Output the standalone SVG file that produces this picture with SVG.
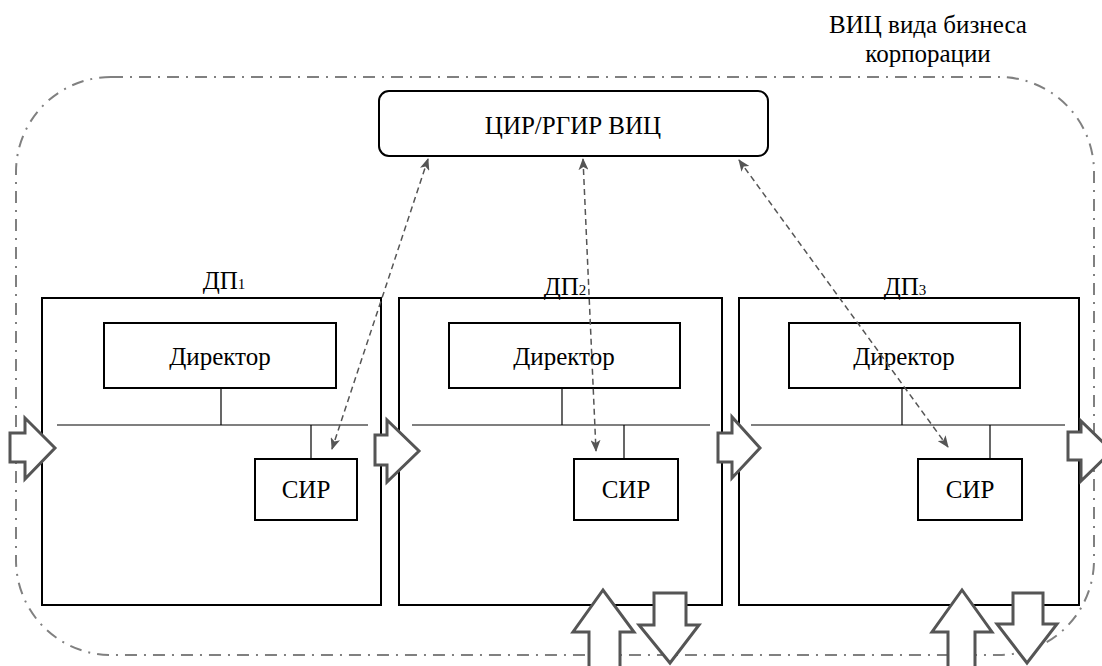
<svg xmlns="http://www.w3.org/2000/svg" width="1102" height="666" viewBox="0 0 1102 666" font-family="Liberation Serif, DejaVu Serif, serif">
<style>
.box{fill:#fff;stroke:#000;stroke-width:2}
.ln{stroke:#000;stroke-width:1.2;fill:none}
.t{font-family:'Liberation Serif','Times New Roman','DejaVu Serif',serif;fill:#000;text-anchor:middle;font-size:25px}
.conn{stroke:#555;stroke-width:1.5;stroke-dasharray:6 4;fill:none}
.blk{fill:#fff;stroke:#555;stroke-width:3;stroke-linejoin:miter}
.outer{fill:none;stroke:#808080;stroke-width:2;stroke-dasharray:12 7 2 7}
</style>
<defs>
<marker id="ah" viewBox="0 0 12 10" refX="11" refY="5" markerWidth="12" markerHeight="10" markerUnits="userSpaceOnUse" orient="auto-start-reverse">
<path d="M0,0 L12,5 L0,10 L3,5 Z" fill="#555"/>
</marker>
</defs>
<rect class="outer" x="16" y="77" width="1078" height="578" rx="95" ry="95"/>
<g id="label-vic">
<text class="t" x="928" y="33">ВИЦ вида бизнеса</text>
<text class="t" x="928" y="62">корпорации</text>
</g>
<g id="cir">
<rect class="box" x="379" y="91" width="389" height="65" rx="10" ry="10"/>
<text class="t" x="573" y="134" font-size="26">ЦИР/РГИР ВИЦ</text>
</g>
<g id="dp1">
<rect class="box" x="42" y="298" width="339" height="307"/>
<text class="t" x="224" y="289">ДП<tspan font-size="15">1</tspan></text>
<line class="ln" x1="57" y1="425" x2="368" y2="425"/>
<line class="ln" x1="221" y1="388" x2="221" y2="425"/>
<line class="ln" x1="311" y1="425" x2="311" y2="459"/>
</g>
<g id="dir1"><rect class="box" x="104" y="323" width="232" height="65"/><text class="t" x="220" y="365">Директор</text></g>
<g id="sir1"><rect class="box" x="255" y="459" width="102" height="61"/><text class="t" x="306" y="498">СИР</text></g>
<g id="dp2">
<rect class="box" x="399" y="298" width="323" height="307"/>
<text class="t" x="565" y="295">ДП<tspan font-size="15">2</tspan></text>
<line class="ln" x1="412" y1="425" x2="710" y2="425"/>
<line class="ln" x1="562" y1="388" x2="562" y2="425"/>
<line class="ln" x1="624" y1="425" x2="624" y2="459"/>
</g>
<g id="dir2"><rect class="box" x="449" y="323" width="231" height="65"/><text class="t" x="564" y="365">Директор</text></g>
<g id="sir2"><rect class="box" x="574" y="459" width="104" height="61"/><text class="t" x="626" y="498">СИР</text></g>
<g id="dp3">
<rect class="box" x="739" y="298" width="340" height="307"/>
<text class="t" x="905" y="295">ДП<tspan font-size="15">3</tspan></text>
<line class="ln" x1="751" y1="425" x2="1065" y2="425"/>
<line class="ln" x1="902" y1="388" x2="902" y2="425"/>
<line class="ln" x1="990" y1="425" x2="990" y2="459"/>
</g>
<g id="dir3"><rect class="box" x="789" y="323" width="231" height="65"/><text class="t" x="904" y="365">Директор</text></g>
<g id="sir3"><rect class="box" x="918" y="459" width="104" height="61"/><text class="t" x="970" y="498">СИР</text></g>
<g id="connectors">
<line class="conn" x1="428" y1="159" x2="332" y2="449" marker-start="url(#ah)" marker-end="url(#ah)"/>
<line class="conn" x1="583" y1="159" x2="596" y2="451" marker-start="url(#ah)" marker-end="url(#ah)"/>
<line class="conn" x1="739" y1="160" x2="948" y2="447" marker-start="url(#ah)" marker-end="url(#ah)"/>
</g>
<g id="flows">
<path class="blk" d="M10,433 H25 V418 L55,448 L25,479 V462 H10 Z"/>
<path class="blk" d="M375,435 H387 V420 L419,451 L387,482 V465 H375 Z"/>
<path class="blk" d="M718,433 H732 V417 L760,448 L732,478 V462 H718 Z"/>
<path class="blk" d="M1068,432 H1081 V421 L1112,451 L1081,481 V460 H1068 Z"/>
<path class="blk" d="M589,670 V632 H573 L603,590 L634,632 H620 V670 Z"/>
<path class="blk" d="M654,593 H686 V625 H699 L670,663 L639,625 H654 Z"/>
<path class="blk" d="M948,670 V632 H932 L962,590 L992,632 H975 V670 Z"/>
<path class="blk" d="M1013,593 H1043 V624 H1057 L1027,663 L997,624 H1013 Z"/>
</g>
</svg>
